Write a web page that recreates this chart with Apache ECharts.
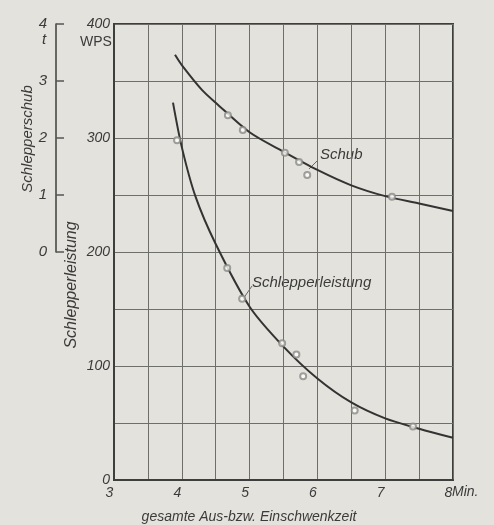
<!DOCTYPE html>
<html>
<head>
<meta charset="utf-8">
<script src="https://cdn.jsdelivr.net/npm/echarts@6/dist/echarts.min.js"></script>
<style>
html,body{margin:0;padding:0;background:#e4e2dc;}
#chart{width:494px;height:525px;}
</style>
</head>
<body>
<div id="chart"></div>
<script>
// Schub curve (x in Min., y in t)
const schubCurveX = [3.9, 4.0, 4.3, 4.5, 5.0, 5.5, 6.0, 6.5, 7.0, 7.5, 8.0];
const schubCurveT = [3.46, 3.28, 2.84, 2.62, 2.10, 1.76, 1.44, 1.17, 0.98, 0.85, 0.72];
// Schub measured points
const schubPtsX = [4.68, 4.90, 5.52, 5.73, 5.85, 7.10];
const schubPtsT = [2.40, 2.14, 1.74, 1.58, 1.35, 0.97];
// Schlepperleistung curve (x in Min., y in WPS)
const leistCurveX = [3.87, 4.0, 4.2, 4.5, 5.0, 5.5, 6.0, 6.5, 7.0, 7.5, 8.0];
const leistCurveW = [331, 292, 249, 207, 152, 117, 89, 68, 54, 45, 37];
// Schlepperleistung measured points
const leistPtsX = [3.93, 4.67, 4.89, 5.48, 5.69, 5.79, 6.55, 7.41];
const leistPtsW = [298, 186, 159, 120, 110, 91, 61, 47];
// tick labels
const xTickValues = [3, 4, 5, 6, 7, 8];
const wpsTickValues = [0, 100, 200, 300, 400];

const zip = (a, b) => a.map((v, i) => [v, b[i]]);
const FONT = "'Liberation Sans', 'DejaVu Sans', sans-serif";
const TXT = '#3b3b3b';
const AX = '#3c3f3c';
const GRID = '#6e6e6a';

const chart = echarts.init(document.getElementById('chart'), null, {renderer: 'canvas'});
const tf = {fontFamily: FONT, fontStyle: 'italic', color: TXT};

chart.setOption({
  backgroundColor: '#e4e2dc',
  animation: false,
  grid: [
    {left: 114, right: 41, top: 24, bottom: 45, show: true, borderColor: AX, borderWidth: 2},
    {left: 56, top: 24, width: 1, height: 228}
  ],
  xAxis: [
    {
      gridIndex: 0, type: 'value', min: 3, max: 8, interval: 0.5,
      axisLine: {show: true, lineStyle: {color: AX, width: 2}},
      axisTick: {show: false},
      splitLine: {show: true, lineStyle: {color: GRID, width: 1}},
      axisLabel: Object.assign({
        fontSize: 14, margin: 6, padding: [0, 9, 0, 0],
        formatter: v => xTickValues.includes(v) ? String(v) : ''
      }, tf)
    },
    {gridIndex: 1, type: 'value', show: false, min: 0, max: 1}
  ],
  yAxis: [
    {
      gridIndex: 0, type: 'value', min: 0, max: 400, interval: 50,
      axisLine: {show: true, lineStyle: {color: AX, width: 2}},
      axisTick: {show: false},
      splitLine: {show: true, lineStyle: {color: GRID, width: 1}},
      axisLabel: Object.assign({
        fontSize: 14, margin: 4,
        formatter: v => wpsTickValues.includes(v) ? String(v) : ''
      }, tf)
    },
    {gridIndex: 0, type: 'value', show: false, min: -4, max: 4},
    {
      gridIndex: 1, type: 'value', min: 0, max: 4, interval: 1, position: 'left',
      axisLine: {show: true, lineStyle: {color: AX, width: 1.5}},
      axisTick: {show: true, inside: true, length: 8, lineStyle: {color: '#555', width: 1.5}},
      splitLine: {show: false},
      axisLabel: Object.assign({fontSize: 15, margin: 9}, tf)
    }
  ],
  series: [
    {
      type: 'line', xAxisIndex: 0, yAxisIndex: 1, smooth: 0.3, showSymbol: false,
      lineStyle: {color: '#333', width: 2}, data: zip(schubCurveX, schubCurveT), z: 3
    },
    {
      type: 'scatter', xAxisIndex: 0, yAxisIndex: 1, symbol: 'emptyCircle', symbolSize: 6,
      itemStyle: {color: '#8a8a86', borderColor: '#8a8a86', borderWidth: 1.2},
      data: zip(schubPtsX, schubPtsT), z: 4
    },
    {
      type: 'line', xAxisIndex: 0, yAxisIndex: 0, smooth: 0.3, showSymbol: false,
      lineStyle: {color: '#333', width: 2}, data: zip(leistCurveX, leistCurveW), z: 3
    },
    {
      type: 'scatter', xAxisIndex: 0, yAxisIndex: 0, symbol: 'emptyCircle', symbolSize: 6,
      itemStyle: {color: '#8a8a86', borderColor: '#8a8a86', borderWidth: 1.2},
      data: zip(leistPtsX, leistPtsW), z: 4
    }
  ],
  graphic: [
    {type: 'text', left: 42, top: 32, style: {text: 't', font: 'italic 15px ' + FONT, fill: TXT}},
    {type: 'text', left: 80, top: 35, style: {text: 'WPS', font: '14px ' + FONT, fill: TXT}},
    {type: 'text', x: 28, y: 139, rotation: Math.PI / 2,
      style: {text: 'Schlepperschub', font: 'italic 15px ' + FONT, fill: TXT, align: 'center', verticalAlign: 'middle'}},
    {type: 'text', x: 72, y: 285, rotation: Math.PI / 2,
      style: {text: 'Schlepperleistung', font: 'italic 16px ' + FONT, fill: TXT, align: 'center', verticalAlign: 'middle'}},
    {type: 'text', x: 320, y: 155,
      style: {text: 'Schub', font: 'italic 15px ' + FONT, fill: TXT, align: 'left', verticalAlign: 'middle'}},
    {type: 'line', shape: {x1: 309, y1: 169, x2: 318, y2: 160}, style: {stroke: '#666', lineWidth: 1}},
    {type: 'text', x: 252, y: 283,
      style: {text: 'Schlepperleistung', font: 'italic 15px ' + FONT, fill: TXT, align: 'left', verticalAlign: 'middle'}},
    {type: 'line', shape: {x1: 243, y1: 299, x2: 252, y2: 286}, style: {stroke: '#666', lineWidth: 1}},
    {type: 'text', x: 452, y: 492,
      style: {text: 'Min.', font: 'italic 14px ' + FONT, fill: TXT, align: 'left', verticalAlign: 'middle'}},
    {type: 'text', x: 249, y: 517,
      style: {text: 'gesamte Aus-bzw. Einschwenkzeit', font: 'italic 14px ' + FONT, fill: TXT, align: 'center', verticalAlign: 'middle'}}
  ]
});
</script>
</body>
</html>
